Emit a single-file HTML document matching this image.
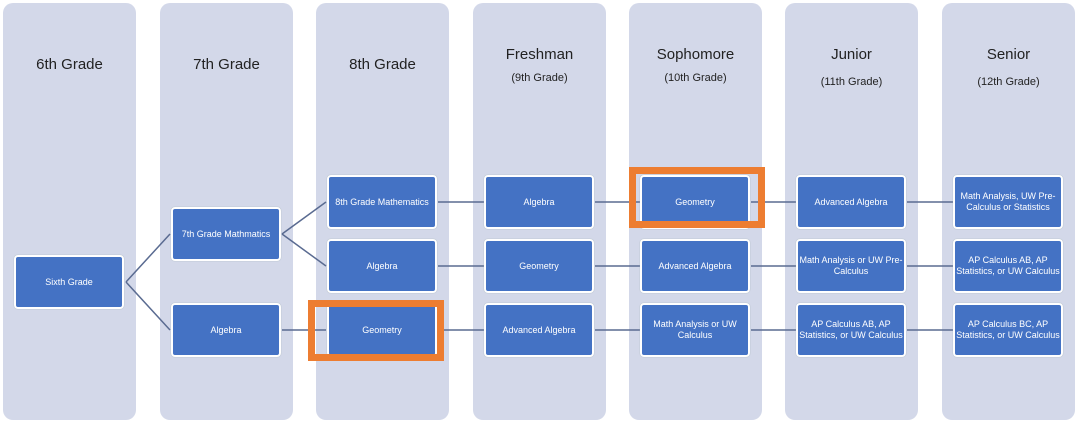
<!DOCTYPE html>
<html><head><meta charset="utf-8"><style>
body{margin:0;width:1080px;height:426px;background:#fff;position:relative;overflow:hidden;font-family:"Liberation Sans",sans-serif}
.col{position:absolute;top:3px;width:133px;height:417px;background:#d3d8e9;border-radius:10px}
.h{position:absolute;width:133px;text-align:center;color:#222;font-size:15px}
.s{position:absolute;width:133px;text-align:center;color:#222;font-size:11px}
.b{position:absolute;width:106px;height:50px;background:#4472c4;border:2px solid #fff;border-radius:4px;color:#fff;font-size:9px;display:flex;align-items:center;justify-content:center;text-align:center;line-height:11px;box-shadow:0 0 1px #9aa}
.o{position:absolute;border:7px solid #ed7d31;box-sizing:border-box}
svg{position:absolute;left:0;top:0}
</style></head><body>
<div class="col" style="left:3px"></div><div class="col" style="left:160px"></div><div class="col" style="left:316px"></div><div class="col" style="left:473px"></div><div class="col" style="left:629px"></div><div class="col" style="left:785px"></div><div class="col" style="left:942px"></div>
<div class="h" style="left:3px;top:56px">6th Grade</div>
<div class="h" style="left:160px;top:56px">7th Grade</div>
<div class="h" style="left:316px;top:56px">8th Grade</div>
<div class="h" style="left:473px;top:46px">Freshman</div><div class="s" style="left:473px;top:72px">(9th Grade)</div>
<div class="h" style="left:629px;top:46px">Sophomore</div><div class="s" style="left:629px;top:72px">(10th Grade)</div>
<div class="h" style="left:785px;top:46px">Junior</div><div class="s" style="left:785px;top:76px">(11th Grade)</div>
<div class="h" style="left:942px;top:46px">Senior</div><div class="s" style="left:942px;top:76px">(12th Grade)</div>
<svg width="1080" height="426"><g stroke="#5a6b91" stroke-width="1.5" fill="none">
<path d="M126 282 L170 234 M126 282 L170 330 M282 234 L326 202 M282 234 L326 266"/>
<path d="M282 330 L326 330 M438 202 L485 202 M438 266 L485 266 M438 330 L485 330"/>
<path d="M595 202 L641 202 M595 266 L641 266 M595 330 L641 330"/>
<path d="M751 202 L797 202 M751 266 L797 266 M751 330 L797 330"/>
<path d="M907 202 L954 202 M907 266 L954 266 M907 330 L954 330"/>
</g></svg>
<div class="b" style="left:14px;top:255px">Sixth Grade</div>
<div class="b" style="left:171px;top:207px">7th Grade Mathmatics</div>
<div class="b" style="left:171px;top:303px">Algebra</div>
<div class="b" style="left:327px;top:175px">8th Grade Mathematics</div>
<div class="b" style="left:327px;top:239px">Algebra</div>
<div class="b" style="left:327px;top:303px">Geometry</div>
<div class="b" style="left:484px;top:175px">Algebra</div>
<div class="b" style="left:484px;top:239px">Geometry</div>
<div class="b" style="left:484px;top:303px">Advanced Algebra</div>
<div class="b" style="left:640px;top:175px">Geometry</div>
<div class="b" style="left:640px;top:239px">Advanced Algebra</div>
<div class="b" style="left:640px;top:303px">Math Analysis or UW<br>Calculus</div>
<div class="b" style="left:796px;top:175px">Advanced Algebra</div>
<div class="b" style="left:796px;top:239px">Math Analysis or UW Pre-<br>Calculus</div>
<div class="b" style="left:796px;top:303px">AP Calculus AB, AP<br>Statistics, or UW Calculus</div>
<div class="b" style="left:953px;top:175px">Math Analysis, UW Pre-<br>Calculus or Statistics</div>
<div class="b" style="left:953px;top:239px">AP Calculus AB, AP<br>Statistics, or UW Calculus</div>
<div class="b" style="left:953px;top:303px">AP Calculus BC, AP<br>Statistics, or UW Calculus</div>
<div class="o" style="left:308px;top:300px;width:136px;height:61px"></div>
<div class="o" style="left:629px;top:167px;width:136px;height:61px"></div>
</body></html>
